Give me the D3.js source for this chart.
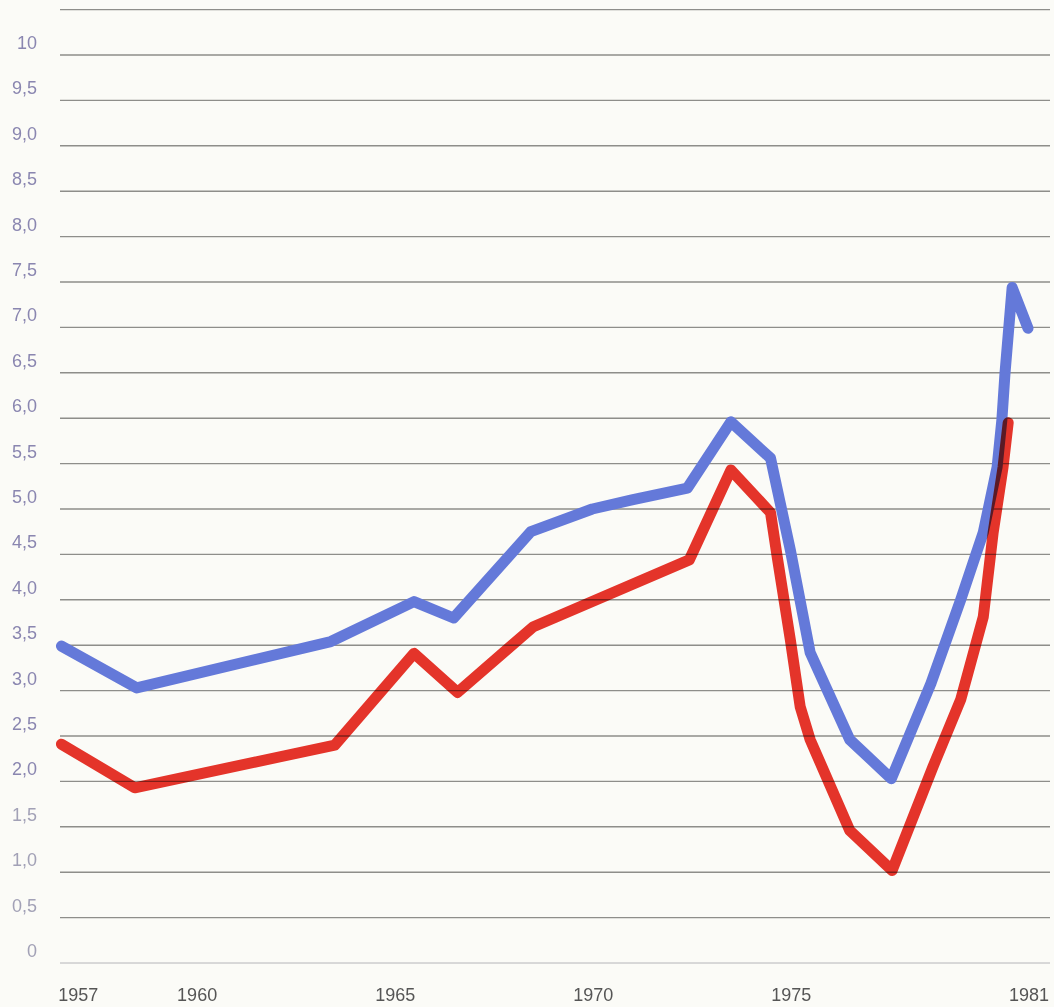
<!DOCTYPE html>
<html lang="de">
<head>
  <meta charset="UTF-8">
  <title>chart</title>
  <script src="https://d3js.org/d3.v7.min.js" charset="utf-8"></script>
  <style>
    body { margin: 0; background: #fbfbf7; }
    text { font-family: "Liberation Sans", Arial, sans-serif; }
  </style>
</head>
<body>
</body>
<script>
  // values, plotted at mid-year points
  var blueYears = [1956.6, 1958.5, 1963.4, 1965.5, 1966.5, 1968.45, 1970.0, 1971.0, 1972.4, 1973.5, 1974.5, 1975.0, 1975.5, 1976.5, 1977.55, 1978.55, 1979.3, 1979.87, 1980.22, 1980.34, 1980.42, 1980.6, 1981.0]
  var blueValues = [3.49, 3.03, 3.54, 3.98, 3.80, 4.75, 5.0, 5.1, 5.23, 5.96, 5.56, 4.55, 3.42, 2.46, 2.03, 3.08, 4.0, 4.74, 5.46, 5.98, 6.5, 7.44, 6.99]

  var redYears = [1956.6, 1958.45, 1963.5, 1965.5, 1966.6, 1968.5, 1972.45, 1973.5, 1974.5, 1974.67, 1975.0, 1975.25, 1975.5, 1976.5, 1977.57, 1978.6, 1979.3, 1979.87, 1980.12, 1980.37, 1980.5]
  var redValues = [2.41, 1.93, 2.40, 3.41, 2.98, 3.70, 4.44, 5.43, 4.96, 4.47, 3.56, 2.82, 2.46, 1.46, 1.02, 2.16, 2.90, 3.81, 4.74, 5.46, 5.95]

  var yTicks = [0, 0.5, 1, 1.5, 2, 2.5, 3, 3.5, 4, 4.5, 5, 5.5, 6, 6.5, 7, 7.5, 8, 8.5, 9, 9.5, 10]
  var yTickLabels = ['0', '0,5', '1,0', '1,5', '2,0', '2,5', '3,0', '3,5', '4,0', '4,5', '5,0', '5,5', '6,0', '6,5', '7,0', '7,5', '8,0', '8,5', '9,0', '9,5', '10']
  var gridValues = yTicks.concat([10.5])
  var xTicks = [1957, 1960, 1965, 1970, 1975, 1981]

  var width = 1054, height = 1007

  var x = d3.scaleLinear().domain([1957, 1981]).range([77.3, 1028])
  var y = d3.scaleLinear().domain([0, 10]).range([963, 55])

  var svg = d3.select('body').append('svg')
    .attr('width', width).attr('height', height)

  svg.append('rect').attr('width', width).attr('height', height).attr('fill', '#fbfbf7')

  // horizontal rules
  svg.append('g').selectAll('line')
    .data(gridValues)
    .enter().append('line')
    .attr('x1', 60).attr('x2', 1050)
    .attr('y1', function(d) { return y(d) })
    .attr('y2', function(d) { return y(d) })
    .attr('stroke', function(d) { return d === 0 ? '#b4b4b8' : '#8e8e8a' })
    .attr('stroke-width', function(d) { return d === 0 ? 1 : 1.4 })

  // y labels sit just above their rule
  svg.append('g').selectAll('text')
    .data(yTicks)
    .enter().append('text')
    .attr('x', 37)
    .attr('y', function(d) { return y(d) - 6 })
    .attr('text-anchor', 'end')
    .attr('font-size', 18)
    .attr('fill', function(d) { return d < 2 ? '#a2a1b6' : '#8a86b0' })
    .text(function(d, i) { return yTickLabels[i] })

  // year labels
  svg.append('g').selectAll('text')
    .data(xTicks)
    .enter().append('text')
    .attr('x', function(d) { return x(d) + 1 })
    .attr('y', 1001)
    .attr('text-anchor', 'middle')
    .attr('font-size', 18)
    .attr('fill', '#555555')
    .text(function(d) { return d })

  var line = d3.line()
    .x(function(d) { return x(d[0]) })
    .y(function(d) { return y(d[1]) })

  var bluePts = blueYears.map(function(d, i) { return [d, blueValues[i]] })
  var redPts = redYears.map(function(d, i) { return [d, redValues[i]] })

  svg.append('path')
    .attr('d', line(bluePts))
    .attr('fill', 'none')
    .attr('stroke', '#6479d9')
    .attr('stroke-width', 11)
    .attr('stroke-linejoin', 'round')
    .attr('stroke-linecap', 'round')

  svg.append('path')
    .attr('d', line(redPts))
    .attr('fill', 'none')
    .attr('stroke', '#e8352b')
    .attr('stroke-width', 11)
    .attr('stroke-linejoin', 'round')
    .attr('stroke-linecap', 'round')
    .style('mix-blend-mode', 'multiply')
</script>
</html>
